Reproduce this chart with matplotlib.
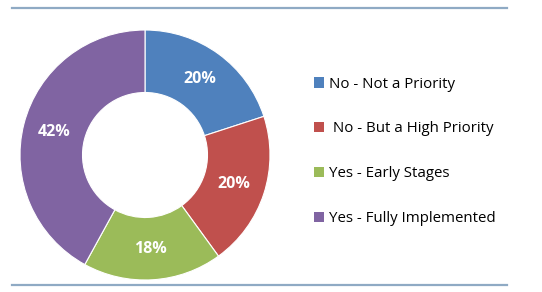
import matplotlib.pyplot as plt
from matplotlib.patches import Patch
from matplotlib.lines import Line2D

labels = ["No - Not a Priority", " No - But a High Priority", "Yes - Early Stages", "Yes - Fully Implemented"]
values = [20, 20, 18, 42]
colors = ["#4F81BD", "#C0504D", "#9BBB59", "#8064A2"]

W, H = 542, 292
fig = plt.figure(figsize=(W / 100, H / 100), dpi=100)

# rules above and below
for y in (7.5, 285):
    fig.add_artist(Line2D([12 / W, 507 / W], [1 - y / H, 1 - y / H], color="#8FAAC4", lw=1.6))

cx, cy, r = 145, 155, 125
ax = fig.add_axes([(cx - r) / W, 1 - (cy + r) / H, 2 * r / W, 2 * r / H])
wedges, texts, autotexts = ax.pie(values, colors=colors, startangle=90, counterclock=False,
                                  autopct="%d%%", pctdistance=0.75,
                                  wedgeprops=dict(width=0.5, edgecolor="white", linewidth=0.8),
                                  textprops=dict(color="white", fontsize=11.5, fontweight="bold",
                                                 family="Open Sans"))
ax.set_xlim(-1, 1)
ax.set_ylim(-1, 1)
ax.set_aspect("equal")

handles = [Patch(facecolor=c, edgecolor="none") for c in colors]
fig.legend(handles, labels, loc="upper left", bbox_to_anchor=(300 / W, 1 - 63 / H),
           frameon=False, prop=dict(family="Open Sans", size=10.8),
           handlelength=0.7, handleheight=0.7, handletextpad=0.35, labelspacing=1.99)

fig.savefig("out.png", dpi=100)
